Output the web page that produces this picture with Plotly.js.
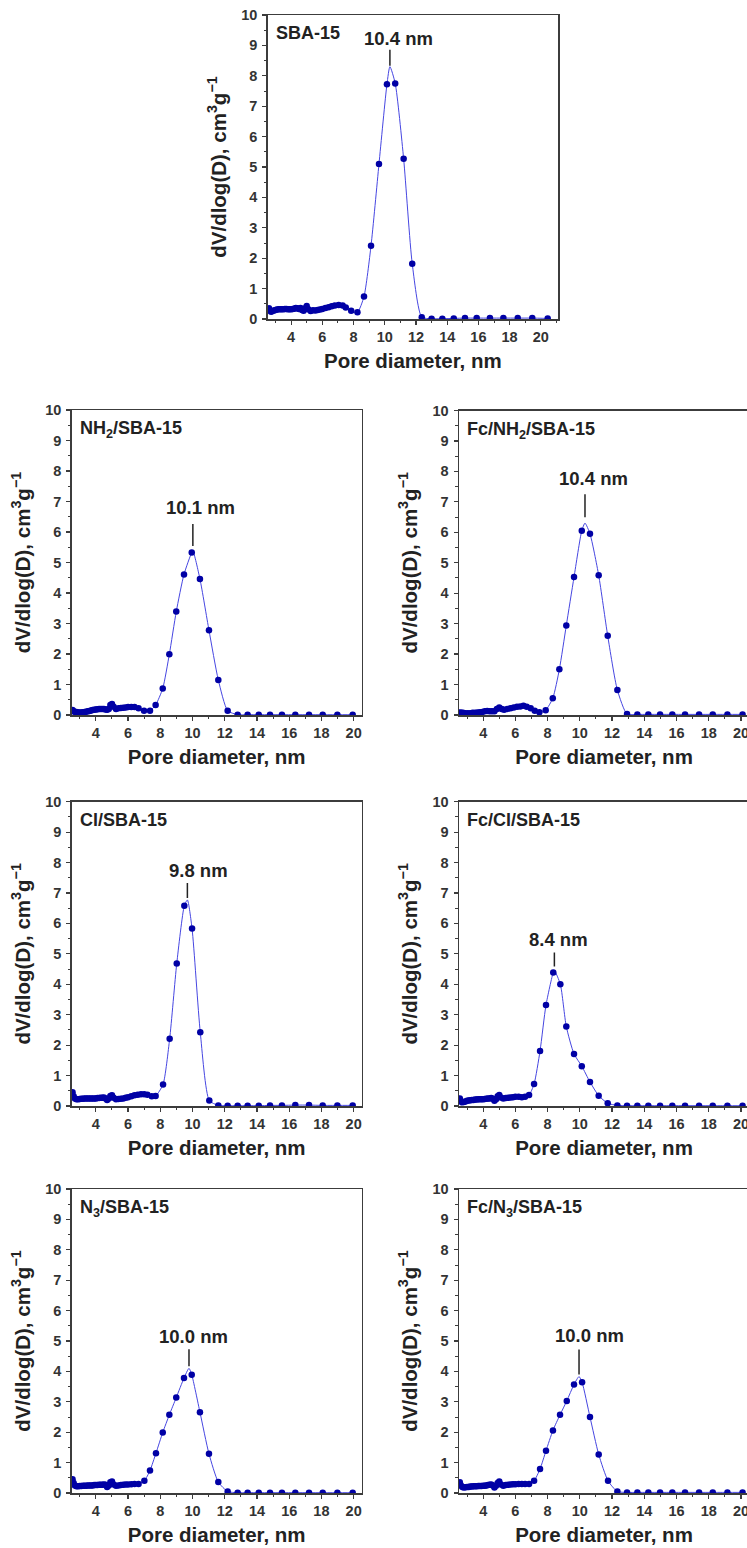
<!DOCTYPE html>
<html>
<head>
<meta charset="utf-8">
<script src="https://cdn.plot.ly/plotly-3.0.1.min.js"></script>
<style>
html,body{margin:0;padding:0;overflow:hidden;background:#fff;}
#chart{width:760px;height:1548px;}
</style>
</head>
<body>
<div id="chart"></div>
<script>
// ---------- DATA ----------
const sampleNames = ['SBA-15', 'NH<sub>2</sub>/SBA-15', 'Fc/NH<sub>2</sub>/SBA-15', 'Cl/SBA-15', 'Fc/Cl/SBA-15', 'N<sub>3</sub>/SBA-15', 'Fc/N<sub>3</sub>/SBA-15'];
const peakLabels = ['10.4 nm', '10.1 nm', '10.4 nm', '9.8 nm', '8.4 nm', '10.0 nm', '10.0 nm'];
const peakX = [10.33, 10.02, 10.32, 9.68, 8.42, 9.78, 9.95];
const peakY = [8.3, 5.38, 6.3, 6.77, 4.45, 4.1, 3.83];

const sba15_x = [2.58,2.65,2.72,2.8,2.9,3.0,3.1,3.2,3.3,3.4,3.5,3.6,3.7,3.8,3.9,4.0,4.1,4.2,4.3,4.4,4.5,4.6,4.7,4.8,4.9,5.0,5.1,5.25,5.4,5.55,5.7,5.85,6.0,6.2,6.4,6.6,6.8,7.05,7.3,7.5,7.85,8.25,8.67,9.12,9.63,10.14,10.67,11.21,11.76,12.37,13.0,13.69,14.42,15.14,15.89,16.74,17.6,18.52,19.45,20.44];
const sba15_y = [0.35,0.27,0.24,0.26,0.28,0.3,0.31,0.32,0.32,0.32,0.32,0.33,0.33,0.32,0.32,0.32,0.33,0.34,0.36,0.35,0.33,0.36,0.3,0.27,0.35,0.43,0.32,0.26,0.29,0.28,0.3,0.31,0.33,0.36,0.39,0.42,0.44,0.46,0.44,0.38,0.27,0.22,0.74,2.41,5.1,7.72,7.75,5.27,1.82,0.06,0.01,0.01,0.02,0.03,0.03,0.03,0.03,0.03,0.03,0.02];

const nh2_x = [2.55,2.62,2.7,2.8,2.9,3.0,3.1,3.2,3.3,3.4,3.5,3.6,3.7,3.8,3.9,4.0,4.1,4.2,4.3,4.4,4.5,4.6,4.7,4.8,4.9,5.0,5.1,5.25,5.4,5.55,5.7,5.85,6.0,6.2,6.4,6.65,6.99,7.36,7.71,8.15,8.56,8.99,9.47,9.95,10.46,11.02,11.6,12.18,12.8,13.42,14.11,14.81,15.55,16.38,17.23,18.08,18.99,19.94];
const nh2_y = [0.16,0.12,0.1,0.1,0.08,0.08,0.08,0.09,0.1,0.11,0.12,0.13,0.15,0.16,0.17,0.18,0.19,0.2,0.2,0.2,0.2,0.18,0.17,0.2,0.33,0.36,0.27,0.2,0.22,0.23,0.24,0.25,0.26,0.26,0.26,0.22,0.14,0.14,0.33,0.87,1.99,3.39,4.61,5.33,4.46,2.78,1.15,0.14,0.01,0.01,0.01,0.01,0.01,0.01,0.01,0.01,0.01,0.01];

const fcnh2_x = [2.55,2.65,2.75,2.9,3.05,3.2,3.35,3.5,3.65,3.8,3.95,4.1,4.25,4.4,4.55,4.7,4.85,5.0,5.15,5.3,5.5,5.7,5.9,6.1,6.3,6.5,6.7,6.95,7.2,7.49,7.88,8.32,8.73,9.16,9.64,10.12,10.63,11.17,11.73,12.33,12.93,13.57,14.25,14.98,15.74,16.53,17.4,18.25,19.16,20.1];
const fcnh2_y = [0.08,0.07,0.07,0.06,0.06,0.06,0.07,0.07,0.08,0.09,0.1,0.12,0.13,0.12,0.12,0.12,0.2,0.25,0.2,0.17,0.2,0.22,0.25,0.27,0.28,0.3,0.27,0.22,0.14,0.09,0.16,0.55,1.5,2.94,4.53,6.05,5.95,4.59,2.6,0.82,0.03,0.02,0.02,0.02,0.02,0.02,0.02,0.02,0.02,0.02];

const cl_x = [2.55,2.62,2.7,2.8,2.9,3.0,3.1,3.2,3.3,3.4,3.5,3.6,3.7,3.8,3.9,4.0,4.1,4.2,4.3,4.4,4.5,4.6,4.7,4.8,4.9,5.0,5.1,5.25,5.4,5.55,5.7,5.85,6.0,6.2,6.4,6.6,6.8,7.0,7.2,7.47,7.71,8.17,8.58,9.02,9.49,9.97,10.48,11.04,11.6,12.18,12.8,13.42,14.11,14.81,15.55,16.38,17.23,18.08,18.99,19.94];
const cl_y = [0.45,0.32,0.25,0.22,0.22,0.23,0.24,0.24,0.25,0.25,0.25,0.25,0.25,0.25,0.25,0.25,0.26,0.26,0.27,0.27,0.28,0.25,0.2,0.25,0.33,0.35,0.27,0.22,0.23,0.24,0.25,0.27,0.29,0.32,0.35,0.37,0.39,0.39,0.37,0.32,0.33,0.71,2.21,4.68,6.58,5.83,2.42,0.18,0.02,0.01,0.01,0.01,0.01,0.02,0.02,0.03,0.03,0.02,0.02,0.02];

const fccl_x = [2.55,2.62,2.7,2.8,2.9,3.0,3.1,3.2,3.3,3.4,3.5,3.6,3.7,3.8,3.9,4.0,4.1,4.2,4.3,4.4,4.5,4.6,4.7,4.8,4.9,5.0,5.1,5.25,5.4,5.55,5.7,5.85,6.0,6.2,6.4,6.6,6.85,7.16,7.53,7.9,8.35,8.79,9.16,9.64,10.12,10.63,11.17,11.73,12.33,12.93,13.57,14.25,14.98,15.74,16.53,17.4,18.25,19.16,20.1];
const fccl_y = [0.25,0.15,0.12,0.13,0.15,0.17,0.18,0.19,0.2,0.2,0.21,0.21,0.22,0.22,0.22,0.22,0.23,0.24,0.25,0.25,0.26,0.24,0.17,0.22,0.32,0.36,0.28,0.25,0.26,0.27,0.28,0.29,0.3,0.3,0.29,0.3,0.36,0.72,1.81,3.32,4.39,4.0,2.61,1.71,1.31,0.79,0.34,0.09,0.02,0.01,0.01,0.01,0.01,0.01,0.01,0.01,0.01,0.01,0.01];

const n3_x = [2.55,2.62,2.7,2.8,2.9,3.0,3.1,3.2,3.3,3.4,3.5,3.6,3.7,3.8,3.9,4.0,4.1,4.2,4.3,4.4,4.5,4.6,4.7,4.8,4.9,5.0,5.1,5.25,5.4,5.55,5.7,5.85,6.0,6.2,6.4,6.65,7.01,7.36,7.73,8.15,8.56,8.99,9.47,9.95,10.46,11.02,11.6,12.18,12.8,13.42,14.11,14.81,15.55,16.38,17.23,18.08,18.99,19.94];
const n3_y = [0.45,0.33,0.25,0.22,0.22,0.23,0.23,0.24,0.24,0.24,0.25,0.25,0.25,0.25,0.26,0.26,0.26,0.27,0.27,0.27,0.28,0.27,0.2,0.25,0.35,0.38,0.28,0.24,0.25,0.26,0.27,0.28,0.28,0.29,0.3,0.3,0.4,0.74,1.31,1.99,2.57,3.14,3.78,3.89,2.66,1.29,0.36,0.05,0.01,0.01,0.01,0.01,0.01,0.01,0.01,0.01,0.01,0.01];

const fcn3_x = [2.55,2.62,2.7,2.8,2.9,3.0,3.1,3.2,3.3,3.4,3.5,3.6,3.7,3.8,3.9,4.0,4.1,4.2,4.3,4.4,4.5,4.6,4.7,4.8,4.9,5.0,5.1,5.25,5.4,5.55,5.7,5.85,6.0,6.2,6.4,6.6,6.85,7.16,7.53,7.9,8.33,8.77,9.19,9.64,10.14,10.63,11.17,11.75,12.33,12.93,13.57,14.25,14.98,15.74,16.53,17.4,18.25,19.16,20.1];
const fcn3_y = [0.35,0.25,0.2,0.18,0.19,0.2,0.2,0.21,0.21,0.22,0.22,0.22,0.23,0.23,0.23,0.24,0.24,0.25,0.26,0.27,0.28,0.25,0.18,0.24,0.33,0.38,0.28,0.24,0.26,0.27,0.28,0.29,0.29,0.3,0.3,0.3,0.3,0.4,0.79,1.39,2.06,2.57,3.03,3.57,3.64,2.5,1.27,0.4,0.05,0.02,0.02,0.02,0.02,0.02,0.02,0.02,0.02,0.02,0.02];

const xTickVals = [4, 6, 8, 10, 12, 14, 16, 18, 20];
const yTickVals = [0, 1, 2, 3, 4, 5, 6, 7, 8, 9, 10];

// ---------- LAYOUT GEOMETRY ----------
const W = 760, H = 1548;
const boxes = [
  {l: 267.7, r: 558, t: 15, b: 319, xr: [2.5, 21.1]},
  {l: 71.7, r: 361.7, t: 410, b: 715, xr: [2.5, 20.5]},
  {l: 459, r: 749, t: 410.5, b: 715, xr: [2.5, 20.5]},
  {l: 71.7, r: 361.7, t: 801.7, b: 1106, xr: [2.5, 20.5]},
  {l: 459, r: 749, t: 801.7, b: 1106, xr: [2.5, 20.5]},
  {l: 71.7, r: 361.7, t: 1189, b: 1493, xr: [2.5, 20.5]},
  {l: 459, r: 749, t: 1189, b: 1493, xr: [2.5, 20.5]}
];
// peak marker styling: gap above apex, line length, label offset (px), label x-shift (px)
const peakStyle = [
  {gap: 1, len: 16, lab: 28, dx: 9},
  {gap: 5, len: 22, lab: 43, dx: 8},
  {gap: 6, len: 23, lab: 45, dx: 9},
  {gap: 2, len: 15, lab: 29, dx: 11},
  {gap: 4, len: 14, lab: 31, dx: 4},
  {gap: 2, len: 17, lab: 32, dx: 5},
  {gap: 2, len: 25, lab: 41, dx: 10}
];

const series = [
  [sba15_x, sba15_y], [nh2_x, nh2_y], [fcnh2_x, fcnh2_y], [cl_x, cl_y],
  [fccl_x, fccl_y], [n3_x, n3_y], [fcn3_x, fcn3_y]
];

const FONT = 'Liberation Sans, Arial, Helvetica, sans-serif';
const AX = '#3c3c3c';
const data = [];
const layout = {
  width: W, height: H,
  margin: {l: 0, r: 0, t: 0, b: 0},
  paper_bgcolor: '#fff', plot_bgcolor: '#fff',
  showlegend: false,
  font: {family: FONT, color: '#222'},
  annotations: [], shapes: []
};

series.forEach(([xs, ys], i) => {
  const sfx = i === 0 ? '' : String(i + 1);
  const xa = 'x' + sfx, ya = 'y' + sfx;
  // curve: data points plus the apex of the fitted curve
  const pts = xs.map((v, k) => [v, ys[k]]);
  pts.push([peakX[i], peakY[i]]);
  pts.sort((a, b) => a[0] - b[0]);
  data.push({
    x: pts.map(p => p[0]), y: pts.map(p => p[1]), xaxis: xa, yaxis: ya,
    type: 'scatter', mode: 'lines',
    line: {color: 'rgb(70,70,225)', width: 1, shape: 'spline', smoothing: 0.6},
    hoverinfo: 'skip'
  });
  data.push({
    x: xs, y: ys, xaxis: xa, yaxis: ya, type: 'scatter', mode: 'markers',
    marker: {color: 'rgb(0,0,165)', size: 6.5}
  });
  const bx = boxes[i];
  const common = {
    showline: true, linecolor: AX, linewidth: 1.5, mirror: true,
    showgrid: false, zeroline: false,
    ticks: 'outside', ticklen: 4, tickwidth: 1.2, tickcolor: AX,
    tickfont: {family: FONT, size: 14.5, color: '#333', weight: 'bold'},
    automargin: false
  };
  layout['xaxis' + sfx] = Object.assign({}, common, {
    anchor: ya,
    domain: [bx.l / W, bx.r / W],
    range: bx.xr,
    tickmode: 'array', tickvals: xTickVals,
    minor: {ticks: 'outside', ticklen: 2.5, tickwidth: 1, tickcolor: AX, dtick: 1, tick0: 0},
    title: {text: 'Pore diameter, nm', font: {family: FONT, size: 20.5, color: '#222', weight: 'bold'}, standoff: 9}
  });
  layout['yaxis' + sfx] = Object.assign({}, common, {
    anchor: xa,
    domain: [1 - bx.b / H, 1 - bx.t / H],
    range: [0, 10],
    tickmode: 'array', tickvals: yTickVals,
    ticklabelstandoff: 2,
    minor: {ticks: 'outside', ticklen: 2.5, tickwidth: 1, tickcolor: AX, dtick: 0.5, tick0: 0},
    title: {text: 'dV/dlog(D), cm<sup>3</sup>g<sup>\u22121</sup>', font: {family: FONT, size: 20.5, color: '#222', weight: 'bold'}, standoff: 9}
  });
  // sample name
  layout.annotations.push({
    xref: xa + ' domain', yref: ya + ' domain', x: 0.02, y: 0.98,
    xanchor: 'left', yanchor: 'top', showarrow: false,
    text: sampleNames[i], font: {family: FONT, size: 18, color: '#222', weight: 'bold'}
  });
  // peak label
  const ps = peakStyle[i];
  layout.annotations.push({
    xref: xa, yref: ya, x: peakX[i], y: peakY[i],
    xanchor: 'center', yanchor: 'middle', showarrow: false,
    xshift: ps.dx, yshift: ps.lab,
    text: peakLabels[i], font: {family: FONT, size: 18.5, color: '#222', weight: 'bold'}
  });
  layout.shapes.push({
    type: 'line', xref: xa, yref: ya, ysizemode: 'pixel', yanchor: peakY[i],
    x0: peakX[i], x1: peakX[i], y0: ps.gap, y1: ps.gap + ps.len,
    line: {color: '#222', width: 1.5}
  });
});

Plotly.newPlot('chart', data, layout, {staticPlot: true, displayModeBar: false});
</script>
</body>
</html>
